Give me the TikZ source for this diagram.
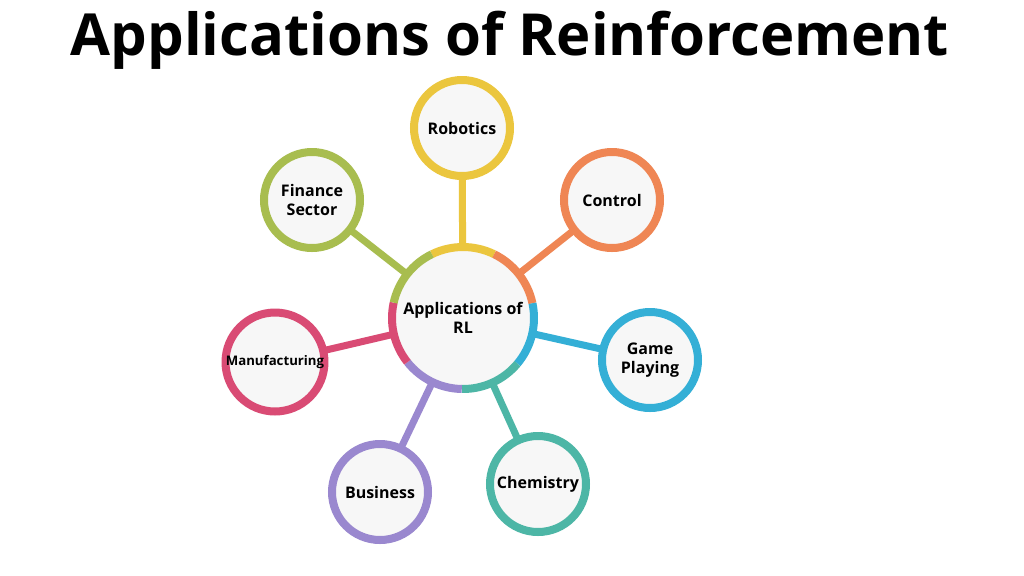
\documentclass[tikz,border=0pt]{standalone}
\usepackage{fontspec}
\setmainfont{Open Sans}
\definecolor{cyel}{HTML}{EBC63E}
\definecolor{corg}{HTML}{EF8654}
\definecolor{cblu}{HTML}{34AFD6}
\definecolor{ctea}{HTML}{4DB6A6}
\definecolor{cpur}{HTML}{9A88CF}
\definecolor{cpnk}{HTML}{D94B74}
\definecolor{coli}{HTML}{A8BD4F}
\definecolor{cfill}{HTML}{F7F7F7}
\begin{document}
\begin{tikzpicture}[x=0.5pt,y=0.5pt,
  every node/.style={font=\bfseries\fontsize{8}{9.5}\selectfont,align=center},
  leaf/.style={circle,line width=4pt,fill=cfill,minimum size=48pt,inner sep=0pt},
  stem/.style={line width=3.5pt,line cap=round}]
\useasboundingbox[fill=white] (0,0) rectangle (1024,-575);

%title
\node[font=\bfseries\fontsize{29}{32}\selectfont] (title) at (510,-40) {Applications of Reinforcement};

%centre
\node[circle,fill=cfill,minimum size=71pt,inner sep=0pt] (c) at (463,-318) {};

%outer nodes
\coordinate (rob) at (462,-128);
\coordinate (con) at (612,-200);
\coordinate (gam) at (650,-360);
\coordinate (che) at (538,-484);
\coordinate (bus) at (380,-492);
\coordinate (man) at (275,-362);
\coordinate (fin) at (312,-200);

%stems
\draw[stem,cyel] (c) -- (rob);
\draw[stem,corg] (c) -- (con);
\draw[stem,cblu] (c) -- (gam);
\draw[stem,ctea] (c) -- (che);
\draw[stem,cpur] (c) -- (bus);
\draw[stem,cpnk] (c) -- (man);
\draw[stem,coli] (c) -- (fin);

\node[leaf,draw=cyel] (n1) at (rob) {Robotics};
\node[leaf,draw=corg] (n2) at (con) {Control};
\node[leaf,draw=cblu] (n3) at (gam) {Game\\Playing};
\node[leaf,draw=ctea] (n4) at (che) {Chemistry};
\node[leaf,draw=cpur] (n5) at (bus) {Business};
\node[leaf,draw=cpnk,font=\bfseries\fontsize{6.6}{8}\selectfont] (n6) at (man) {Manufacturing};
\node[leaf,draw=coli] (n7) at (fin) {Finance\\Sector};

%ring of the centre
\node[circle,fill=cfill,minimum size=71pt] (m) at (c) {Applications of\\RL};
\draw[line width=4pt,cyel] (c) ++(64:71) arc[start angle=64,end angle=116,radius=71];
\draw[line width=4pt,corg] (c) ++(12:71) arc[start angle=12,end angle=64,radius=71];
\draw[line width=4pt,cblu] (c) ++(-40:71) arc[start angle=-40,end angle=12,radius=71];
\draw[line width=4pt,ctea] (c) ++(-91:71) arc[start angle=-91,end angle=-40,radius=71];
\draw[line width=4pt,cpur] (c) ++(-141.5:71) arc[start angle=-141.5,end angle=-91,radius=71];
\draw[line width=4pt,cpnk] (c) ++(167.5:71) arc[start angle=167.5,end angle=218.5,radius=71];
\draw[line width=4pt,coli] (c) ++(116:71) arc[start angle=116,end angle=167.5,radius=71];
\end{tikzpicture}
\end{document}
